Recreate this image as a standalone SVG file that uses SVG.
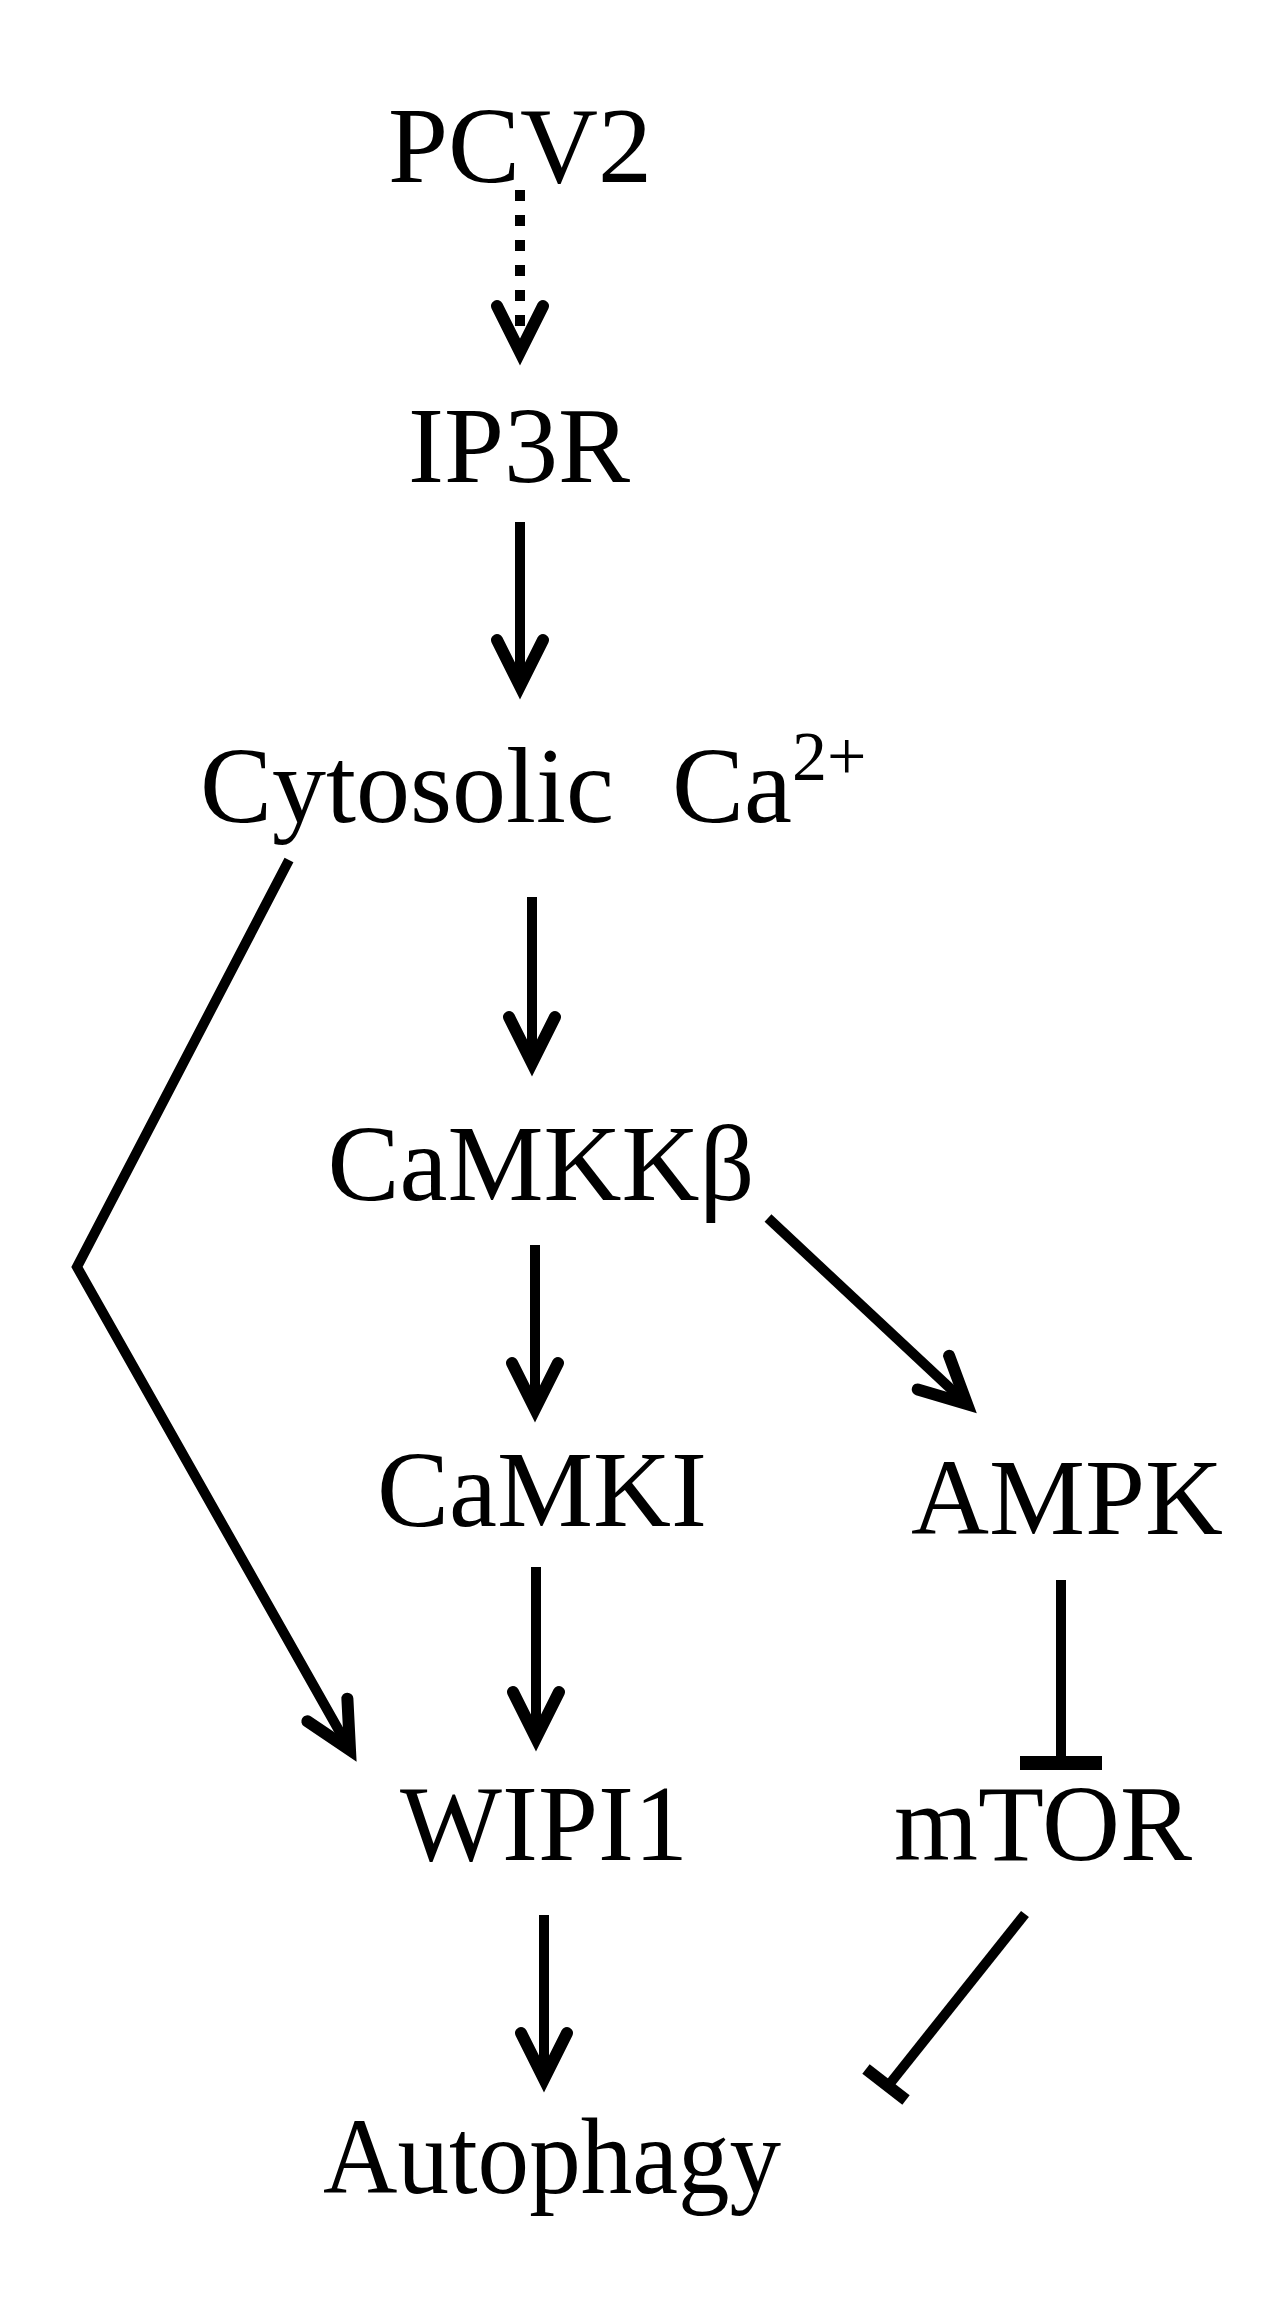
<svg xmlns="http://www.w3.org/2000/svg" width="1282" height="2324" viewBox="0 0 1282 2324">
<style>
.t{font-family:"Liberation Serif","Times New Roman",serif;font-size:108px;fill:#000;text-anchor:middle}
.c{fill:none;stroke:#000;stroke-width:10}
</style>
<defs>
<marker id="arr" markerUnits="userSpaceOnUse" viewBox="-70 -40 80 80" markerWidth="80" markerHeight="80" refX="-6" refY="0" orient="auto">
<path d="M-52,-23 L-6,0 L-52,23" fill="none" stroke="#000" stroke-width="12" stroke-linejoin="miter" stroke-linecap="round"/>
</marker>
</defs>
<rect width="1282" height="2324" fill="#fff"/>
<g id="PCV2"><text class="t" x="520" y="182">PCV2</text></g>
<g id="IP3R"><text class="t" x="519" y="482">IP3R</text></g>
<g id="Cytosolic"><text class="t" style="text-anchor:start" x="200" y="822">Cytosolic<tspan x="672">Ca</tspan><tspan font-size="70" dy="-42">2+</tspan></text></g>
<g id="CaMKKb"><text class="t" x="541" y="1200">CaMKKβ</text></g>
<g id="CaMKI"><text class="t" x="542" y="1526">CaMKI</text></g>
<g id="AMPK"><text class="t" x="1067" y="1534">AMPK</text></g>
<g id="WIPI1"><text class="t" x="544" y="1860">WIPI1</text></g>
<g id="mTOR"><text class="t" x="1043" y="1860">mTOR</text></g>
<g id="Autophagy"><text class="t" x="552" y="2193" textLength="458" lengthAdjust="spacingAndGlyphs">Autophagy</text></g>
<g id="connectors">
<line class="c" x1="520" y1="190" x2="520" y2="352" stroke-width="12" stroke-dasharray="11 14" marker-end="url(#arr)"/>
<line class="c" x1="520" y1="522" x2="520" y2="686" marker-end="url(#arr)"/>
<polyline class="c" points="289,860 77,1267 350,1750" marker-end="url(#arr)"/>
<line class="c" x1="532" y1="897" x2="532" y2="1063" marker-end="url(#arr)"/>
<line class="c" x1="535" y1="1245" x2="535" y2="1409" marker-end="url(#arr)"/>
<line class="c" x1="768" y1="1218" x2="967" y2="1404" marker-end="url(#arr)"/>
<line class="c" x1="536" y1="1567" x2="536" y2="1738" marker-end="url(#arr)"/>
<line class="c" x1="544" y1="1915" x2="544" y2="2079" marker-end="url(#arr)"/>
<line class="c" x1="1061" y1="1580" x2="1061" y2="1758"/>
<rect x="1020" y="1756" width="82" height="14" fill="#000"/>
<line class="c" x1="1025" y1="1914" x2="888" y2="2086"/>
<line x1="866" y1="2069" x2="906" y2="2100" stroke="#000" stroke-width="12"/>
</g>
</svg>
